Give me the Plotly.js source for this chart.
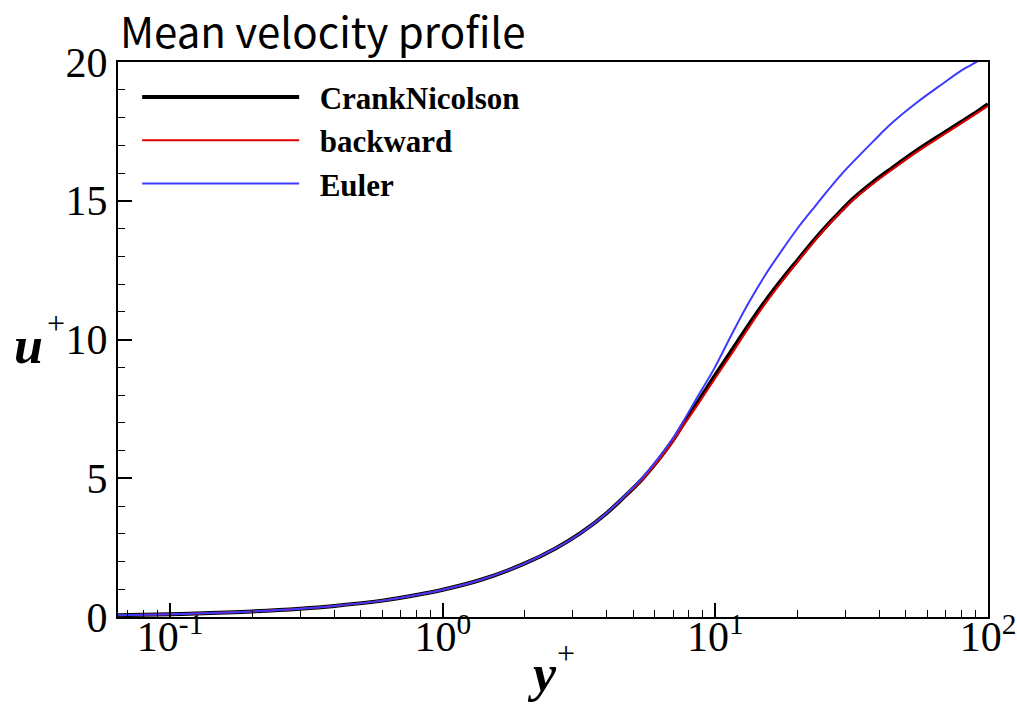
<!DOCTYPE html>
<html>
<head>
<meta charset="utf-8">
<script src="https://cdn.plot.ly/plotly-3.0.1.min.js"></script>
<style>html,body{margin:0;padding:0;background:#fff;}#chart{width:1017px;height:704px;}</style>
</head>
<body>
<div id="chart"></div>
<script>
const yPlus = [0.0644, 0.1, 0.15, 0.2, 0.3, 0.4, 0.6, 0.8, 1.0, 1.4, 2.0, 2.6, 3.2, 4.0, 4.6, 5.4, 6.2, 7.0, 7.7, 8.5, 9.9, 11.5, 13.2, 15.3, 17.5, 20, 23.2, 26, 29, 32, 38, 44.4, 55, 67.8, 80, 92.5, 100];
const crankNicolson = [0.064, 0.10, 0.15, 0.20, 0.30, 0.40, 0.59, 0.79, 0.98, 1.36, 1.93, 2.48, 3.02, 3.75, 4.30, 4.98, 5.68, 6.38, 7.02, 7.65, 8.66, 9.62, 10.50, 11.40, 12.15, 12.85, 13.62, 14.17, 14.65, 15.07, 15.68, 16.17, 16.82, 17.40, 17.85, 18.25, 18.48];
const backward = [0.064, 0.10, 0.15, 0.20, 0.30, 0.40, 0.59, 0.79, 0.98, 1.36, 1.93, 2.48, 3.02, 3.75, 4.30, 4.96, 5.65, 6.34, 6.96, 7.57, 8.55, 9.50, 10.40, 11.32, 12.08, 12.80, 13.57, 14.13, 14.61, 15.03, 15.63, 16.12, 16.77, 17.35, 17.80, 18.20, 18.42];
const euler = [0.064, 0.10, 0.15, 0.20, 0.30, 0.40, 0.59, 0.79, 0.98, 1.36, 1.93, 2.48, 3.02, 3.76, 4.32, 5.02, 5.74, 6.45, 7.12, 7.85, 8.95, 10.20, 11.30, 12.35, 13.20, 14.00, 14.80, 15.40, 15.95, 16.40, 17.15, 17.80, 18.55, 19.20, 19.70, 20.05, 20.25];
const seriesNames = ["CrankNicolson", "backward", "Euler"];
const xTickVals = [0.1, 1, 10, 100];
const xTickText = ["10<sup>-1</sup>", "10<sup>0</sup>", "10<sup>1</sup>", "10<sup>2</sup>"];
const yTickVals = [0, 5, 10, 15, 20];

const minorVals = [];
for (let e = -2; e <= 1; e++) for (let d = 2; d <= 9; d++) minorVals.push(d * Math.pow(10, e));

const serif = "Liberation Serif";
const pad = "\u00a0\u00a0";
const traces = [
  {x: yPlus, y: crankNicolson, name: pad + seriesNames[0], mode: "lines", line: {color: "#000000", width: 4, shape: "spline", smoothing: 1}},
  {x: yPlus, y: backward, name: pad + seriesNames[1], mode: "lines", line: {color: "#e00000", width: 2, shape: "spline", smoothing: 1}},
  {x: yPlus, y: euler, name: pad + seriesNames[2], mode: "lines", line: {color: "#3b3bff", width: 2, shape: "spline", smoothing: 1}}
];

const layout = {
  width: 1017, height: 704,
  margin: {l: 118, r: 29, t: 62, b: 87},
  paper_bgcolor: "#ffffff", plot_bgcolor: "#ffffff",
  title: {text: "Mean velocity profile", font: {family: "Noto Sans CJK KR", size: 42, color: "#000"}, x: 0.118, xanchor: "left", xref: "container", y: 0.953, yanchor: "middle", yref: "container"},
  showlegend: true,
  legend: {x: 0.022, y: 0.985, xanchor: "left", yanchor: "top", bgcolor: "rgba(0,0,0,0)", font: {family: serif, size: 31, color: "#000", weight: "bold"}, itemwidth: 157, tracegroupgap: 0},
  xaxis: {
    type: "log", range: [Math.log10(0.0644), 2],
    tickmode: "array", tickvals: xTickVals, ticktext: xTickText,
    ticks: "inside", ticklen: 14, tickwidth: 2, tickcolor: "#000",
    showline: true, linewidth: 2, linecolor: "#000", mirror: true,
    showgrid: false, zeroline: false, ticklabelstandoff: -18,
    tickfont: {family: serif, size: 42, color: "#000"},
    minor: {tickmode: "array", tickvals: minorVals, ticks: "inside", ticklen: 7, tickwidth: 1, tickcolor: "#000", showgrid: false}
  },
  yaxis: {
    range: [0, 20], tickmode: "array", tickvals: yTickVals,
    ticks: "inside", ticklen: 14, tickwidth: 2, tickcolor: "#000",
    showline: true, linewidth: 2, linecolor: "#000", mirror: true,
    showgrid: false, zeroline: false,
    tickfont: {family: serif, size: 42, color: "#000"},
    minor: {dtick: 1, ticks: "inside", ticklen: 7, tickwidth: 1, tickcolor: "#000", showgrid: false}
  },
  annotations: [
    {text: "<b><i>u</i></b>", xref: "paper", yref: "paper", x: -0.103, y: 0.49, xanchor: "center", yanchor: "middle", showarrow: false, font: {family: serif, size: 52, color: "#000"}},
    {text: "+", xref: "paper", yref: "paper", x: -0.071, y: 0.53, xanchor: "center", yanchor: "middle", showarrow: false, font: {family: serif, size: 32, color: "#000"}},
    {text: "<b><i>y</i></b>", xref: "paper", yref: "paper", x: 0.487, y: -0.157, xanchor: "center", yanchor: "bottom", showarrow: false, font: {family: serif, size: 52, color: "#000"}},
    {text: "+", xref: "paper", yref: "paper", x: 0.515, y: -0.065, xanchor: "center", yanchor: "middle", showarrow: false, font: {family: serif, size: 32, color: "#000"}}
  ]
};

Plotly.newPlot("chart", traces, layout, {staticPlot: true, displayModeBar: false});
</script>
</body>
</html>
